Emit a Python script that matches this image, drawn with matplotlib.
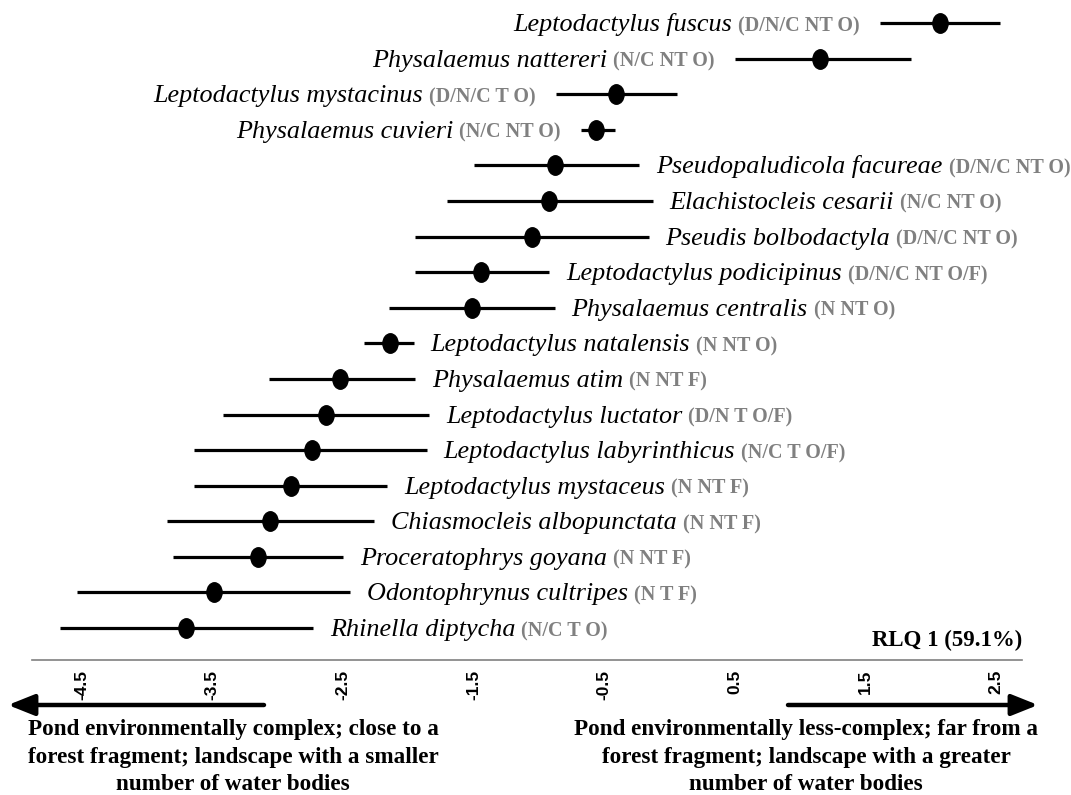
import matplotlib
matplotlib.use("Agg")
import matplotlib.pyplot as plt
from matplotlib.path import Path
from matplotlib.transforms import Affine2D

# ---- data ----
species = ["Leptodactylus fuscus", "Physalaemus nattereri", "Leptodactylus mystacinus",
           "Physalaemus cuvieri", "Pseudopaludicola facureae", "Elachistocleis cesarii",
           "Pseudis bolbodactyla", "Leptodactylus podicipinus", "Physalaemus centralis",
           "Leptodactylus natalensis", "Physalaemus atim", "Leptodactylus luctator",
           "Leptodactylus labyrinthicus", "Leptodactylus mystaceus", "Chiasmocleis albopunctata",
           "Proceratophrys goyana", "Odontophrynus cultripes", "Rhinella diptycha"]
traits = ["(D/N/C NT O)", "(N/C NT O)", "(D/N/C T O)", "(N/C NT O)", "(D/N/C NT O)",
          "(N/C NT O)", "(D/N/C NT O)", "(D/N/C NT O/F)", "(N NT O)", "(N NT O)",
          "(N NT F)", "(D/N T O/F)", "(N/C T O/F)", "(N NT F)", "(N NT F)", "(N NT F)",
          "(N T F)", "(N/C T O)"]
score = [2.07, 1.15, -0.41, -0.56, -0.88, -0.92, -1.05, -1.44, -1.51, -2.14,
         -2.52, -2.63, -2.74, -2.90, -3.06, -3.15, -3.49, -3.70]
low = [1.61, 0.50, -0.87, -0.68, -1.50, -1.70, -1.95, -1.95, -2.15, -2.34,
       -3.07, -3.42, -3.64, -3.64, -3.85, -3.80, -4.54, -4.67]
high = [2.53, 1.85, 0.06, -0.42, -0.23, -0.13, -0.16, -0.92, -0.88, -1.96,
        -1.95, -1.84, -1.86, -2.16, -2.26, -2.50, -2.45, -2.73]
label_left = [True, True, True, True] + [False] * 14
ticks = [-4.5, -3.5, -2.5, -1.5, -0.5, 0.5, 1.5, 2.5]
tick_labels = ["-4.5", "-3.5", "-2.5", "-1.5", "-0.5", "0.5", "1.5", "2.5"]
axis_title = "RLQ 1 (59.1%)"
left_note = "Pond environmentally complex; close to a\nforest fragment; landscape with a smaller\nnumber of water bodies"
right_note = "Pond environmentally less-complex; far from a\nforest fragment; landscape with a greater\nnumber of water bodies"

serif = "Liberation Serif"
gray = "#808080"

fig = plt.figure(figsize=(10.71, 7.95), dpi=100)
ax = fig.add_axes([0, 0, 1, 1])
ax.set_xlim(-5.126, 3.074)
ax.set_ylim(21.69, -0.646)
ax.patch.set_visible(False)

# ellipse marker (taller than wide)
ell = Path.unit_circle().transformed(Affine2D().scale(0.78, 1.0))

for i, (nm, tr, s, lo, hi, lft) in enumerate(zip(species, traits, score, low, high, label_left)):
    ax.plot([lo, hi], [i, i], color="black", lw=2.3, solid_capstyle="butt", zorder=2)
    ax.plot([s], [i], marker=ell, markersize=14, color="black", zorder=3, linestyle="none")
    if lft:
        ct = ax.annotate(tr, xy=(lo, i), xycoords="data", xytext=(-20, -8),
                         textcoords="offset pixels", ha="right", va="baseline",
                         fontsize=14.5, fontweight="bold", color=gray, family=serif)
        ax.annotate(nm, xy=(0, i), xycoords=(ct, "data"), xytext=(-6, -8),
                    textcoords="offset pixels", ha="right", va="baseline",
                    fontsize=18.8, style="italic", color="black", family=serif)
    else:
        nt = ax.annotate(nm, xy=(hi, i), xycoords="data", xytext=(17, -8),
                         textcoords="offset pixels", ha="left", va="baseline",
                         fontsize=18.8, style="italic", color="black", family=serif)
        ax.annotate(tr, xy=(1, i), xycoords=(nt, "data"), xytext=(6, -8),
                    textcoords="offset pixels", ha="left", va="baseline",
                    fontsize=14.5, fontweight="bold", color=gray, family=serif)

# axis
for sp in ["top", "left", "right"]:
    ax.spines[sp].set_visible(False)
ax.spines["bottom"].set_position(("axes", (795 - 660) / 795))
ax.spines["bottom"].set_bounds(-4.88, 2.70)
ax.spines["bottom"].set_color(gray)
ax.spines["bottom"].set_linewidth(1.2)
ax.set_yticks([])
ax.set_xticks(ticks)
ax.set_xticklabels(tick_labels, rotation=90, fontsize=12.5, fontweight="bold",
                   family="Liberation Sans")
ax.tick_params(axis="x", length=0, pad=7)

fig.text(1022 / 1071, 1 - 640 / 795, axis_title, ha="right", va="center",
         fontsize=16.5, fontweight="bold", family=serif)

# arrows
arrow_kw = dict(arrowstyle="-|>,head_length=0.8,head_width=0.32", lw=3.2,
                color="black", shrinkA=0, shrinkB=0, mutation_scale=20)
ax.annotate("", xy=(8, 795 - 705), xycoords="figure pixels",
            xytext=(264, 795 - 705), textcoords="figure pixels", arrowprops=arrow_kw)
ax.annotate("", xy=(1038, 795 - 705), xycoords="figure pixels",
            xytext=(788, 795 - 705), textcoords="figure pixels", arrowprops=arrow_kw)

fig.text(233 / 1071, 1 - 757 / 795, left_note, ha="center", va="center",
         multialignment="center", fontsize=16.7, fontweight="bold", family=serif,
         linespacing=1.42)
fig.text(806 / 1071, 1 - 757 / 795, right_note, ha="center", va="center",
         multialignment="center", fontsize=16.7, fontweight="bold", family=serif,
         linespacing=1.42)

fig.savefig("out.png", dpi=100)
